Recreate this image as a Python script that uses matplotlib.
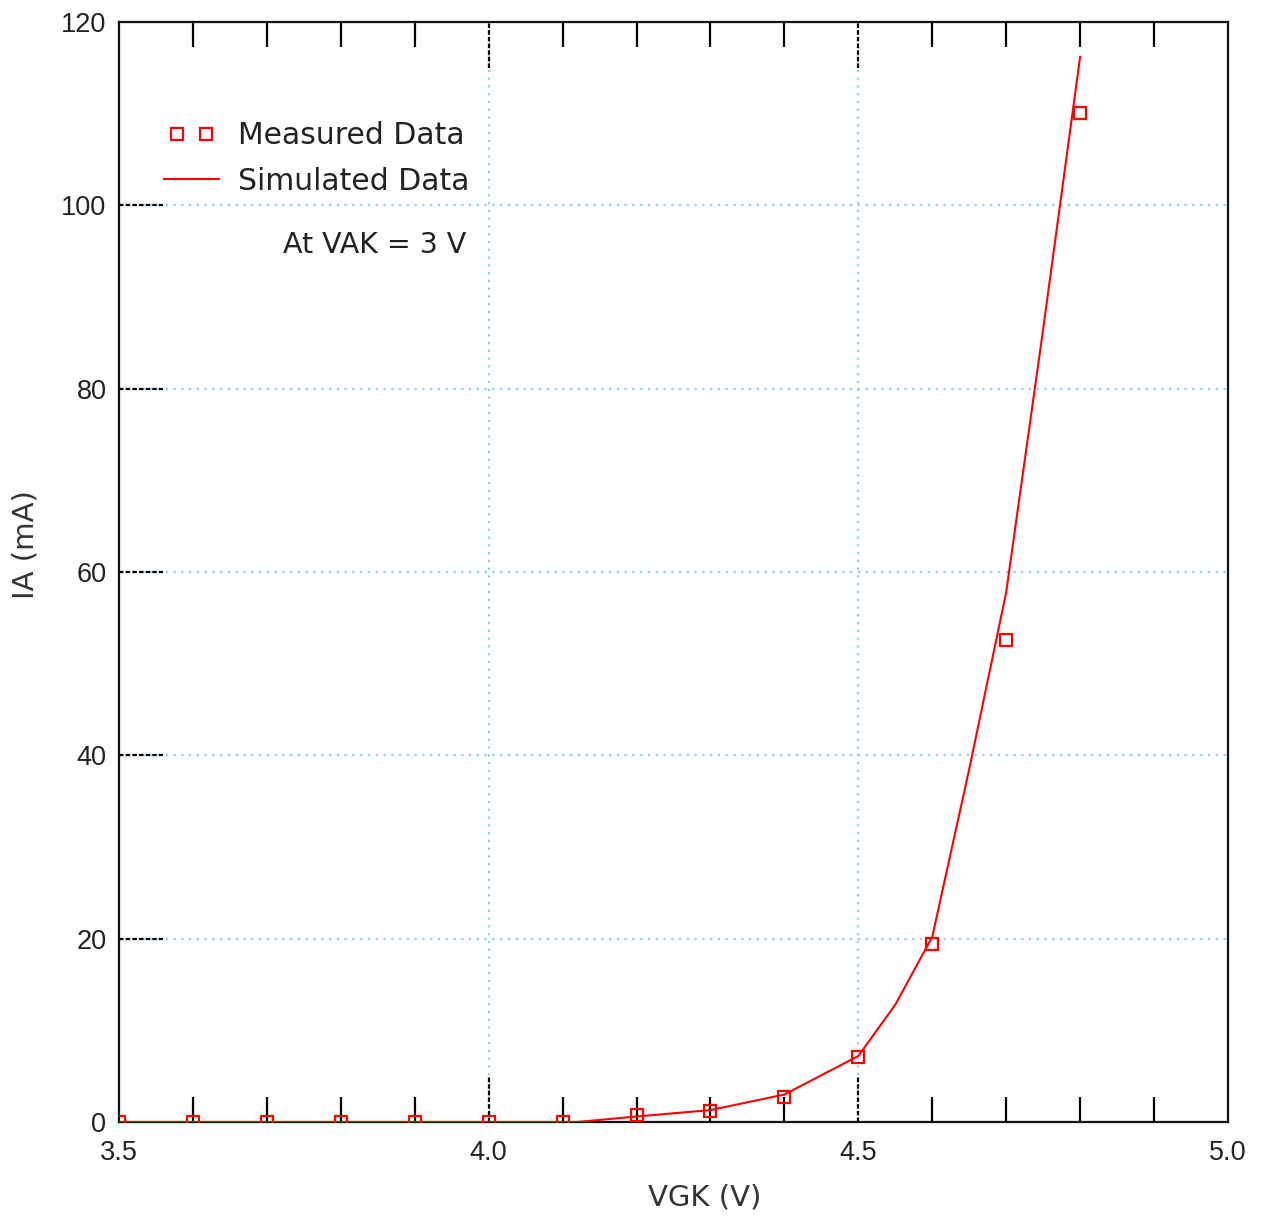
import matplotlib
matplotlib.use("Agg")
import matplotlib.pyplot as plt
import numpy as np
from matplotlib.lines import Line2D
from matplotlib.legend_handler import HandlerLine2D

# measured points (VGK in V, IA in mA)
vgk_meas = [3.5, 3.6, 3.7, 3.8, 3.9, 4.0, 4.1, 4.2, 4.3, 4.4, 4.5, 4.6, 4.7, 4.8]
ia_meas = [0.0, 0.0, 0.0, 0.0, 0.0, 0.0, 0.0, 0.75, 1.2, 2.7, 7.1, 19.4, 52.6, 110.1]

# simulated curve
vgk_sim = [3.5, 3.6, 3.7, 3.8, 3.9, 4.0, 4.1, 4.12, 4.2, 4.3, 4.4, 4.5, 4.55, 4.6, 4.65, 4.7, 4.75, 4.8]
ia_sim = [0.0, 0.0, 0.0, 0.0, 0.0, 0.0, 0.0, 0.0, 0.6, 1.3, 3.0, 7.2, 12.8, 20.2, 38.5, 57.8, 86.5, 116.2]

x_major = [3.5, 4.0, 4.5, 5.0]
y_major = [0, 20, 40, 60, 80, 100, 120]

red = "#ff0000"
grid_blue = "#8fcdf0"

fig = plt.figure(figsize=(12.63, 12.18), dpi=100)
ax = fig.add_axes([119 / 1263, 96 / 1218, 1109 / 1263, 1100 / 1218])

ax.set_xlim(3.5, 5.0)
ax.set_ylim(0, 120)

# grid
for xv in x_major[1:-1]:
    ax.axvline(xv, color=grid_blue, ls=(0, (1, 2.5)), lw=1.6, zorder=1)
for yv in y_major[1:-1]:
    ax.axhline(yv, color=grid_blue, ls=(0, (1, 2.5)), lw=1.6, zorder=1)

# major ticks drawn as short dotted black segments
xt = ax.get_xaxis_transform()
yt = ax.get_yaxis_transform()
for xv in x_major[1:-1]:
    ax.plot([xv, xv], [0, 0.042], transform=xt, color="k", ls=(0, (2, 1)), lw=1.6, zorder=2)
    ax.plot([xv, xv], [1 - 0.042, 1], transform=xt, color="k", ls=(0, (2, 1)), lw=1.6, zorder=2)
for yv in y_major[1:-1]:
    ax.plot([0, 0.04], [yv, yv], transform=yt, color="k", ls=(0, (2, 1)), lw=1.6, zorder=2)

ax.set_xticks(x_major)
ax.set_yticks(y_major)
ax.set_xticklabels(["3.5", "4.0", "4.5", "5.0"])
ax.set_xticks(np.arange(3.6, 5.0, 0.1), minor=True)
ax.set_yticks(np.arange(5, 120, 5), minor=True)

ax.tick_params(which="major", length=0, labelsize=19.5, colors="#222222")
ax.tick_params(axis="x", which="major", pad=13)
ax.tick_params(axis="y", which="major", pad=9)
ax.tick_params(axis="x", which="minor", direction="in", length=18, width=1.6,
               top=True, bottom=True, color="k")
ax.tick_params(axis="y", which="minor", direction="in", length=16.5, width=1.6,
               left=True, right=False, color="k")
# hide minor ticks that fall on major positions
for t in ax.xaxis.get_minor_ticks():
    if abs(round(t.get_loc(), 2) - 4.0) < 1e-6 or abs(round(t.get_loc(), 2) - 4.5) < 1e-6:
        t.tick1line.set_visible(False)
        t.tick2line.set_visible(False)
for t in ax.yaxis.get_minor_ticks():
    if round(t.get_loc()) % 20 == 0:
        t.tick1line.set_visible(False)

for lab in ax.get_xticklabels() + ax.get_yticklabels():
    lab.set_family("Liberation Sans")

for sp in ax.spines.values():
    sp.set_linewidth(1.6)
    sp.set_color("#111111")

ax.plot(vgk_sim, ia_sim, color=red, lw=1.5, zorder=3)
ax.plot(vgk_meas, ia_meas, ls="none", marker="s", ms=8, mfc="none", mec=red, mew=1.6, zorder=4)

ax.set_xlabel("VGK (V)", fontsize=21, family="DejaVu Sans", color="#333333")
ax.set_ylabel("IA (mA)", fontsize=21, family="DejaVu Sans", color="#333333")
ax.xaxis.set_label_coords(0.528, -0.056)
ax.yaxis.set_label_coords(-0.072, 0.5245)

h_meas = Line2D([], [], ls="none", marker="s", ms=8, mfc="none", mec=red, mew=1.6)
h_sim = Line2D([], [], color=red, lw=1.5)
leg = ax.legend([h_meas, h_sim], ["Measured Data", "Simulated Data"], loc="upper left",
                bbox_to_anchor=(0.008, 0.934), frameon=False, numpoints=2,
                handlelength=2.45, handletextpad=0.35, labelspacing=0.55,
                handler_map={h_meas: HandlerLine2D(numpoints=2, marker_pad=0.75)},
                prop={"family": "DejaVu Sans", "size": 21.5})
for txt in leg.get_texts():
    txt.set_color("#222222")

ax.text(0.313, 0.797, "At VAK = 3 V", transform=ax.transAxes, ha="right", va="center",
        fontsize=20.5, family="DejaVu Sans", color="#222222")

fig.savefig("out.png", dpi=100)
